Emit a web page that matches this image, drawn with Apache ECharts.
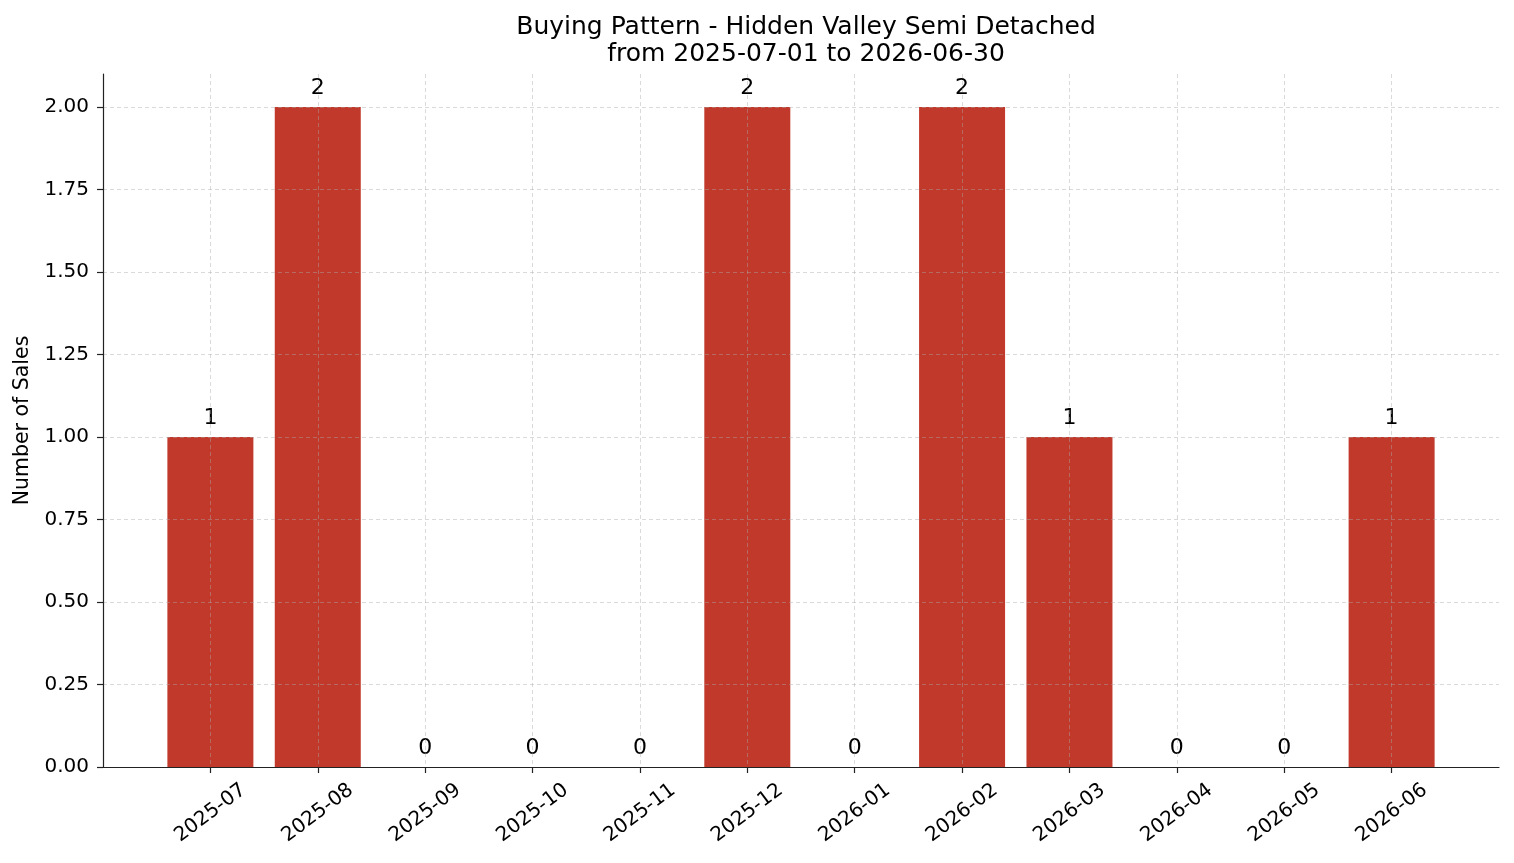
<!DOCTYPE html>
<html>
<head>
<meta charset="utf-8">
<script src="https://cdn.jsdelivr.net/npm/echarts@6/dist/echarts.min.js"></script>
<style>
  html, body { margin: 0; padding: 0; background: #fff; }
  #chart { width: 1514px; height: 863px; }
</style>
</head>
<body>
<div id="chart"></div>
<script>
const months = ['2025-07', '2025-08', '2025-09', '2025-10', '2025-11', '2025-12',
  '2026-01', '2026-02', '2026-03', '2026-04', '2026-05', '2026-06'];
const sales = [1, 2, 0, 0, 0, 2, 0, 2, 1, 0, 0, 1];
const yTicks = [0, 0.25, 0.5, 0.75, 1, 1.25, 1.5, 1.75, 2];

const font = 'DejaVu Sans';
const xTicks = months.map((m, i) => i);
const gridLine = { show: true, lineStyle: { color: 'rgba(170,170,170,0.55)', type: [4, 3], width: 0.8 } };
const spine = { color: '#222', width: 1.2 };

let chart = echarts.init(document.getElementById('chart'));
chart.setOption({
  animation: false,
  title: {
    text: 'Buying Pattern - Hidden Valley Semi Detached\nfrom 2025-07-01 to 2026-06-30',
    left: 801, top: 9, textAlign: 'center',
    textStyle: { fontFamily: font, fontSize: 25, fontWeight: 'normal', color: '#000', lineHeight: 27 }
  },
  grid: { left: 103, right: 15, top: 74, bottom: 96, outerBoundsMode: 'none', containLabel: false },
  xAxis: {
    type: 'value', min: -1, max: 12, interval: 1, z: 3,
    axisLine: { onZero: false, lineStyle: spine },
    axisTick: { show: true, length: 6, customValues: xTicks, lineStyle: spine },
    axisLabel: {
      customValues: xTicks, rotate: 37, align: 'center', verticalAlign: 'middle', margin: 46,
      fontFamily: font, fontSize: 20, color: '#000',
      formatter: v => months[v] || ''
    },
    splitLine: gridLine
  },
  yAxis: {
    type: 'value', min: 0, max: 2.1, z: 3,
    name: 'Number of Sales', nameLocation: 'middle', nameGap: 65, nameRotate: 90,
    nameTextStyle: { fontFamily: font, fontSize: 20.5, color: '#000' },
    axisLine: { show: true, onZero: false, lineStyle: spine },
    axisTick: { show: true, length: 6, customValues: yTicks, lineStyle: spine },
    axisLabel: {
      customValues: yTicks, margin: 14,
      fontFamily: font, fontSize: 20, color: '#000',
      formatter: v => v.toFixed(2)
    },
    splitLine: gridLine
  },
  series: [{
    type: 'bar',
    barWidth: 86,
    data: sales.map((v, i) => [i, v]),
    itemStyle: { color: '#C0392B' },
    label: {
      show: true, position: 'top', distance: 8,
      fontFamily: font, fontSize: 22, color: '#000',
      formatter: p => String(p.value[1])
    }
  }]
});
</script>
</body>
</html>
